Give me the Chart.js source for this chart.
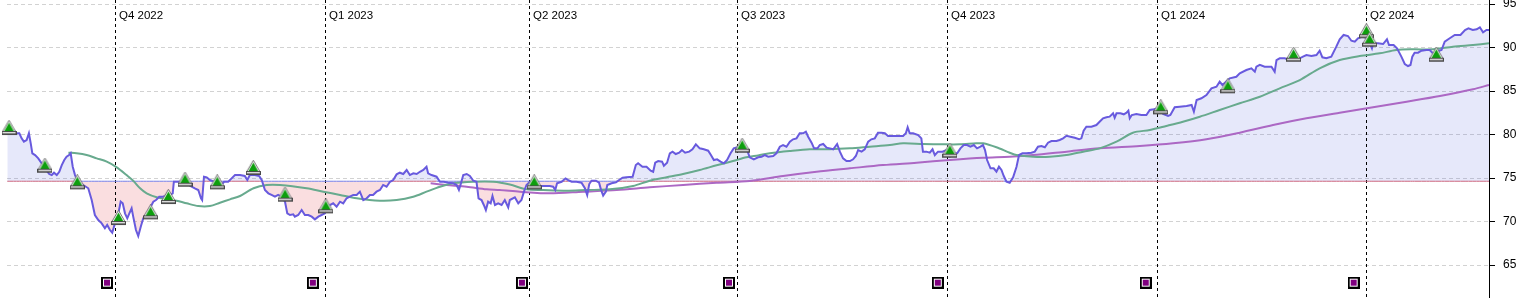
<!DOCTYPE html>
<html><head><meta charset="utf-8">
<script src="https://cdn.jsdelivr.net/npm/chart.js@4.4.1/dist/chart.umd.min.js"></script>
<style>html,body{margin:0;padding:0;background:#fff;overflow:hidden}#wrap{width:1532px;height:298px;position:relative}</style>
</head><body><div id="wrap"><canvas id="c" width="1532" height="298"></canvas></div>
<script>
// ---- data (x = calendar days since mid-Aug 2022) ----
const quarterLabels = ['Q4 2022','Q1 2023','Q2 2023','Q3 2023','Q4 2023','Q1 2024','Q2 2024'];
const quarterDays = [47.3,139.3,228.6,319.7,411.7,503.7,595.2];
const baselineValue = 74.63;
const priceSeries = [[0.1,80.71],[1.3,80.71],[2.8,80.52],[4.2,80.14],[5.4,80.14],[6.4,79.56],[7.4,79.18],[8.6,79.37],[9.6,80.14],[10.4,78.99],[11.1,77.84],[12.3,77.64],[13.7,77.26],[15.2,76.69],[16.6,76.11],[18.5,75.46],[19.6,75.34],[20.6,75.61],[21.8,75.34],[22.9,75.72],[24.0,76.49],[25.1,77.07],[26.1,77.45],[27.2,77.64],[27.9,77.84],[28.8,76.30],[29.8,75.34],[31.2,74.57],[33.4,74.20],[35.6,73.82],[37.1,72.47],[38.5,70.75],[40.0,70.17],[41.5,69.79],[42.9,69.22],[43.9,69.60],[45.1,69.02],[46.1,68.71],[47.3,69.79],[48.8,70.94],[49.8,72.28],[50.7,72.09],[51.7,70.94],[52.7,70.37],[53.6,70.94],[54.6,71.52],[55.3,70.56],[56.5,69.02],[57.5,68.33],[58.6,69.40],[59.7,70.37],[61.2,70.75],[62.6,71.52],[64.1,72.28],[65.3,72.47],[66.7,72.85],[68.5,72.85],[70.0,73.05],[71.4,73.05],[72.6,73.24],[73.1,74.57],[74.3,74.57],[75.8,74.57],[77.2,74.77],[78.7,74.39],[80.5,74.08],[82.3,73.82],[83.8,73.62],[85.0,72.67],[85.5,72.47],[86.3,75.15],[87.5,75.08],[88.9,74.77],[91.1,74.57],[93.3,74.00],[95.1,74.57],[96.9,74.57],[98.4,74.96],[99.9,75.34],[102.1,75.34],[104.2,75.23],[105.3,74.77],[106.4,75.34],[108.6,75.34],[110.5,75.23],[111.6,74.77],[113.0,73.62],[114.5,73.24],[115.9,73.05],[117.4,72.85],[118.8,73.05],[120.3,72.85],[121.8,72.28],[122.8,70.94],[124.0,70.75],[125.4,70.83],[126.1,70.56],[127.6,70.75],[129.1,71.32],[130.5,70.75],[132.0,70.75],[133.5,70.56],[134.9,70.25],[136.4,70.56],[137.8,70.75],[139.3,70.94],[141.5,71.90],[142.9,72.09],[144.4,71.70],[145.9,72.28],[147.3,72.09],[148.8,72.67],[150.2,72.85],[151.7,73.05],[153.2,73.05],[154.6,73.43],[156.1,72.47],[157.6,72.67],[159.0,73.05],[160.4,73.05],[161.9,73.43],[163.4,73.62],[164.8,74.20],[166.3,74.00],[167.8,74.57],[169.2,74.77],[170.7,75.42],[172.1,75.61],[173.6,75.46],[175.1,75.92],[176.5,75.34],[178.0,75.54],[179.5,75.46],[180.9,75.72],[182.4,75.92],[183.8,76.30],[184.5,75.54],[186.0,75.34],[188.2,75.15],[189.7,74.57],[191.4,74.57],[193.3,74.46],[195.5,74.39],[197.0,74.20],[198.0,73.62],[198.9,74.39],[199.9,75.34],[201.4,75.46],[202.8,75.23],[204.3,74.69],[205.7,74.57],[206.6,72.67],[207.9,72.47],[208.9,71.90],[209.8,71.32],[210.8,72.28],[211.9,72.09],[212.7,72.93],[213.8,71.90],[215.2,72.09],[216.7,71.90],[218.1,72.47],[219.6,71.63],[220.3,72.47],[222.5,72.78],[224.0,72.09],[225.4,72.47],[226.5,73.43],[227.6,74.20],[229.1,74.57],[230.5,74.57],[233.5,74.08],[235.6,74.08],[237.8,74.08],[239.3,74.00],[240.2,73.62],[241.0,74.39],[243.0,74.57],[244.7,74.96],[245.9,74.77],[247.4,74.57],[249.5,74.57],[251.7,74.46],[253.2,73.82],[254.2,73.05],[255.1,74.31],[256.1,74.69],[258.0,74.69],[259.4,74.46],[260.2,73.70],[261.2,72.97],[262.4,73.43],[263.0,74.20],[264.9,74.39],[266.8,74.50],[268.2,74.77],[269.7,75.04],[271.4,75.08],[274.1,75.15],[275.5,76.49],[276.5,76.69],[278.4,76.30],[280.2,76.30],[282.0,75.84],[283.1,75.72],[284.0,76.76],[285.3,76.95],[287.0,76.88],[287.8,76.41],[289.2,76.76],[290.4,77.84],[291.6,78.03],[293.0,77.76],[294.5,77.91],[295.7,78.22],[297.1,77.91],[298.9,78.03],[300.3,78.30],[301.8,78.87],[303.5,78.41],[305.3,78.30],[307.2,78.14],[308.4,77.64],[309.7,77.07],[311.1,77.15],[312.6,76.88],[314.1,76.69],[315.5,77.07],[317.0,77.84],[318.4,78.41],[319.9,78.53],[321.6,78.30],[324.0,78.41],[325.4,77.38],[327.2,77.15],[329.1,77.38],[330.6,77.45],[332.0,77.64],[333.5,77.45],[335.7,77.53],[337.1,77.84],[338.6,78.60],[340.0,78.79],[341.5,78.60],[343.0,79.18],[344.4,79.45],[345.9,79.56],[347.3,80.14],[348.8,80.14],[350.0,80.33],[351.0,79.75],[352.5,79.06],[353.6,78.41],[355.1,78.41],[356.1,78.79],[357.6,78.91],[359.1,78.49],[360.5,78.41],[362.0,78.30],[363.7,78.91],[364.9,78.03],[366.3,77.26],[367.8,76.95],[369.3,76.95],[370.7,77.15],[371.9,77.53],[372.9,78.22],[374.4,78.03],[375.8,78.30],[377.3,79.18],[378.7,79.45],[380.2,79.56],[381.6,80.21],[383.1,80.21],[384.6,80.14],[386.0,79.83],[388.2,79.83],[390.4,79.83],[392.6,79.83],[393.8,80.14],[394.6,80.83],[395.5,80.14],[397.0,80.14],[399.2,79.94],[400.6,79.56],[401.3,78.03],[402.8,78.03],[404.3,77.91],[405.5,78.30],[406.5,77.64],[407.9,78.03],[409.9,78.03],[411.6,78.22],[413.1,77.45],[414.8,77.84],[416.3,77.84],[417.7,78.41],[419.2,78.79],[420.6,78.79],[422.1,78.60],[423.6,78.79],[425.0,78.41],[426.5,78.60],[427.6,78.79],[428.5,78.22],[429.4,77.07],[430.9,76.11],[432.3,76.11],[433.5,75.72],[434.6,76.30],[435.7,75.92],[436.7,75.23],[437.9,74.57],[439.3,74.46],[440.8,75.08],[442.3,76.30],[443.4,77.64],[444.9,77.84],[446.6,77.84],[448.8,77.91],[450.3,78.03],[451.7,78.60],[453.2,78.68],[454.7,78.53],[456.1,79.06],[457.6,79.25],[459.8,79.25],[461.2,79.37],[462.7,79.56],[464.2,79.86],[465.9,79.75],[467.8,79.63],[469.7,79.45],[470.7,79.56],[471.7,80.44],[472.9,80.90],[475.1,80.90],[477.3,81.09],[478.7,81.47],[480.2,81.86],[481.7,81.98],[483.1,82.05],[484.6,82.44],[485.3,81.93],[486.1,82.44],[487.8,82.44],[489.3,82.32],[490.5,82.51],[491.3,82.74],[491.9,81.86],[492.8,82.24],[494.8,82.36],[497.0,82.24],[499.2,82.24],[500.7,82.82],[502.4,82.90],[504.3,83.01],[506.5,82.36],[508.7,82.13],[509.7,82.24],[511.6,83.13],[513.8,83.20],[516.8,83.28],[519.0,83.39],[520.0,82.62],[521.2,83.97],[523.3,84.16],[525.5,84.54],[527.7,85.31],[529.9,85.49],[531.3,86.07],[532.5,85.69],[535.7,86.46],[538.6,86.64],[540.1,87.03],[543.0,87.41],[545.2,87.61],[546.7,87.22],[547.4,87.79],[548.9,88.00],[551.0,87.79],[554.0,87.79],[555.4,87.22],[556.2,88.56],[557.6,88.76],[559.8,88.76],[562.0,88.56],[563.7,88.95],[566.4,88.76],[567.8,88.95],[569.3,89.14],[571.5,89.02],[573.7,89.14],[575.1,89.63],[576.3,88.87],[578.0,88.76],[580.2,88.95],[582.4,90.10],[583.9,90.94],[585.6,91.44],[587.5,91.32],[589.0,90.78],[590.5,90.67],[591.9,91.06],[593.8,91.25],[595.7,91.10],[597.0,90.50],[598.0,89.91],[598.5,90.48],[600.7,90.48],[602.9,90.40],[604.6,90.94],[605.5,90.29],[607.5,90.29],[609.0,89.91],[610.9,88.95],[612.4,88.10],[613.8,87.87],[614.9,87.99],[615.7,88.95],[616.7,89.40],[618.2,89.40],[619.7,89.63],[621.9,89.71],[623.3,89.71],[626.0,89.02],[627.4,89.63],[628.5,89.71],[629.9,90.67],[632.1,91.06],[634.3,91.44],[636.8,91.44],[638.8,92.01],[640.3,92.21],[642.2,92.01],[643.9,92.09],[645.3,92.32],[646.7,91.75],[648.2,92.01],[649.3,92.01]];
const fastAverage = [[26.9,77.91],[30.5,77.84],[34.9,77.64],[39.3,77.26],[43.7,76.88],[48.1,76.23],[52.4,75.34],[55.3,74.69],[58.3,73.82],[61.2,73.24],[65.6,72.78],[70.0,72.55],[74.3,72.39],[78.7,72.09],[83.8,71.78],[88.9,71.78],[93.3,72.16],[97.7,72.55],[102.1,72.93],[108.0,73.82],[113.8,74.20],[119.6,74.20],[131.3,73.82],[138.6,73.43],[145.9,73.05],[153.2,72.67],[163.4,72.39],[170.7,72.47],[178.0,72.85],[183.8,73.43],[189.7,74.00],[195.5,74.39],[204.3,74.57],[213.1,74.57],[220.3,74.25],[227.6,73.70],[234.9,73.62],[245.2,73.54],[253.9,73.62],[264.1,73.70],[274.3,74.08],[281.6,74.69],[289.0,75.08],[296.2,75.46],[303.5,75.92],[310.9,76.46],[318.1,76.95],[324.0,77.38],[329.1,77.60],[334.2,77.84],[342.9,78.10],[351.7,78.30],[360.5,78.30],[369.3,78.41],[378.0,78.60],[386.8,78.79],[392.6,78.99],[401.4,78.91],[410.1,78.87],[417.4,78.87],[424.7,78.99],[427.6,78.99],[433.5,78.53],[439.3,77.91],[442.3,77.64],[449.6,77.45],[456.9,77.45],[464.2,77.64],[471.5,78.03],[478.7,78.41],[486.1,79.18],[493.3,80.21],[500.7,80.52],[507.9,80.98],[515.2,81.47],[522.6,82.05],[531.3,82.82],[540.1,83.59],[548.9,84.34],[557.6,85.31],[566.4,86.26],[575.1,87.61],[583.9,88.56],[592.6,89.02],[601.4,89.33],[608.7,89.71],[616.0,89.79],[624.8,89.79],[633.5,90.09],[642.3,90.29],[649.3,90.48]];
const slowAverage = [[185.6,74.39],[192.6,74.20],[201.4,74.00],[210.1,73.70],[215.9,73.62],[224.7,73.43],[237.8,73.24],[252.4,73.43],[267.1,73.62],[281.6,73.93],[296.2,74.20],[310.9,74.46],[325.4,74.65],[340.0,75.23],[354.7,75.72],[369.3,76.11],[383.8,76.49],[398.5,76.76],[413.1,77.07],[427.6,77.33],[439.3,77.45],[449.5,77.64],[464.2,78.03],[478.7,78.41],[496.3,78.68],[510.9,78.99],[525.5,79.45],[540.1,80.21],[554.7,81.09],[569.3,81.86],[583.9,82.51],[598.5,83.13],[613.2,83.77],[627.8,84.43],[642.3,85.20],[649.3,85.69]];
const buySignals = [[0.9,79.94],[16.6,75.61],[30.8,73.70],[48.8,69.60],[62.9,70.25],[70.7,72.01],[78.0,74.00],[92.1,73.70],[107.9,75.34],[121.8,72.28],[139.7,70.94],[231.0,73.70],[322.1,77.91],[413.1,77.33],[505.5,82.32],[534.9,84.74],[563.7,88.37],[595.6,91.06],[597.0,90.09],[626.2,88.37]];
const periodMarkDays = [43.8,134.0,225.6,316.3,407.8,498.9,590.0];
const periodMarkValue = 62.97;

// ---- styles ----
const PRICE = 'rgb(104,90,222)';
const FAST = 'rgb(104,170,142)';
const SLOW = 'rgb(172,104,196)';
const FILL_UP = 'rgba(88,102,222,0.15)';
const FILL_DN = 'rgba(222,35,48,0.15)';
const BASE_UP = 'rgb(205,105,130)';
const BASE_DN = 'rgb(120,130,232)';

function makeTriangle(){
  const c=document.createElement('canvas'); c.width=15; c.height=30;
  const g=c.getContext('2d');
  g.beginPath(); g.moveTo(7.5,0.3); g.lineTo(14.3,12); g.lineTo(0.7,12); g.closePath();
  g.fillStyle='#ffffff'; g.fill(); g.strokeStyle='#6e6e6e'; g.lineWidth=1; g.stroke();
  g.beginPath(); g.moveTo(7.5,2.6); g.lineTo(12.4,11.2); g.lineTo(2.6,11.2); g.closePath();
  g.fillStyle='#0d9e0d'; g.fill();
  g.fillStyle='#808080'; g.fillRect(0,12,15,3);
  g.fillStyle='#e6e6e6'; g.fillRect(1,12,13,1);
  g.strokeStyle='#4a4a4a'; g.strokeRect(0.5,11.5,14,3);
  return c;
}
function makeSquare(){
  const c=document.createElement('canvas'); c.width=12; c.height=12;
  const g=c.getContext('2d');
  g.fillStyle='#000'; g.fillRect(0,0,12,12);
  g.fillStyle='#fff'; g.fillRect(2,2,8,8);
  g.fillStyle='#800080'; g.fillRect(3,3,6,6);
  return c;
}
const toXY = a => a.map(p => ({x:p[0], y:p[1]}));

const quarterPlugin = {
  id:'quarterLines',
  beforeDatasetsDraw(chart){
    const {ctx, scales:{x}} = chart;
    ctx.save();
    ctx.strokeStyle='#000'; ctx.lineWidth=1; ctx.setLineDash([3,3]);
    quarterDays.forEach(d=>{
      const px=Math.round(x.getPixelForValue(d))+0.5;
      ctx.beginPath(); ctx.moveTo(px,0); ctx.lineTo(px,chart.height); ctx.stroke();
    });
    ctx.setLineDash([]);
    ctx.fillStyle='#000'; ctx.font='11.5px "Liberation Sans", Arial, sans-serif'; ctx.textBaseline='middle'; ctx.textAlign='left';
    quarterDays.forEach((d,i)=>{
      ctx.fillText(quarterLabels[i], Math.round(x.getPixelForValue(d))+4, 16);
    });
    ctx.restore();
  }
};

new Chart(document.getElementById('c'), {
  type:'line',
  data:{ datasets:[
    { data: periodMarkDays.map(d=>({x:d,y:periodMarkValue})), showLine:false, pointStyle: makeSquare(), pointRadius:6, clip:false, order:0 },
    { data: toXY(buySignals), showLine:false, pointStyle: makeTriangle(), pointRadius:7, clip:false, order:1 },
    { data: toXY(priceSeries), borderColor:PRICE, borderWidth:2, pointRadius:0, tension:0,
      fill:{ target:{value:baselineValue}, above:FILL_UP, below:FILL_DN }, order:2 },
    { data: toXY(fastAverage), borderColor:FAST, borderWidth:2, pointRadius:0, tension:0.3, fill:false, order:3 },
    { data: toXY(slowAverage), borderColor:SLOW, borderWidth:2, pointRadius:0, tension:0.3, fill:false, order:4 },
    { data: priceSeries.map(p=>({x:p[0], y:baselineValue})), borderWidth:1, pointRadius:0, fill:false, order:5,
      segment:{ borderColor: c => (priceSeries[c.p1DataIndex][1] >= baselineValue ? BASE_UP : BASE_DN) } }
  ]},
  options:{
    responsive:false, animation:false, devicePixelRatio:1,
    layout:{ autoPadding:false, padding:{left:7, right:0, top:0, bottom:0} },
    plugins:{ legend:{display:false}, tooltip:{enabled:false}, filler:{drawTime:'beforeDatasetsDraw'} },
    scales:{
      x:{ type:'linear', min:0, max:649.3, display:false },
      y:{ position:'right', min:61.21, max:95.46,
        ticks:{ stepSize:5, includeBounds:false, padding:8, color:'#000',
          font:{ family:'"Liberation Sans", Arial, sans-serif', size:12 } },
        grid:{ color:'#d2d2d2', lineWidth:1, drawTicks:true, tickLength:6, tickColor:'#000', tickWidth:1, tickBorderDash:[] },
        border:{ display:true, color:'#000', width:1, dash:[4,3] },
        afterFit(s){ s.width = 43; s.paddingTop = 0; s.paddingBottom = 0; }
      }
    }
  },
  plugins:[quarterPlugin]
});
</script>
</body></html>
